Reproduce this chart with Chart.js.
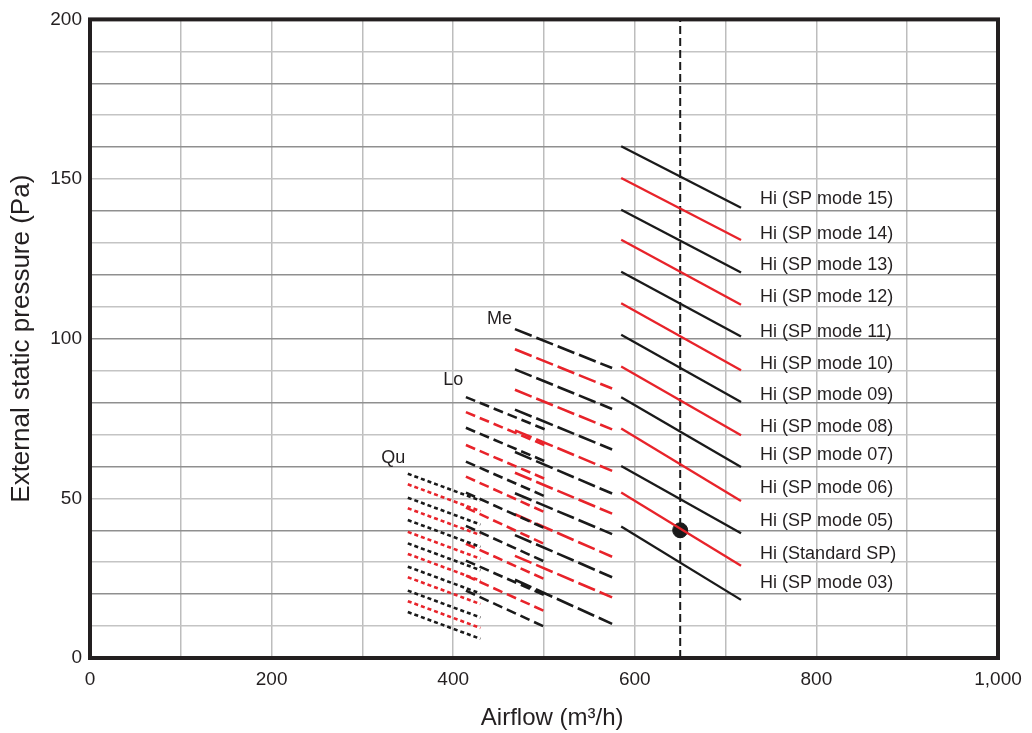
<!DOCTYPE html>
<html>
<head>
<meta charset="utf-8">
<title>External static pressure vs airflow</title>
<script src="https://cdn.jsdelivr.net/npm/chart.js@4/dist/chart.umd.min.js"></script>
<style>
    html, body { margin: 0; padding: 0; background: #ffffff; }
    #chartBox { position: relative; width: 1032px; height: 733px; }
</style>
</head>
<body>
<div id="chartBox"><canvas id="fanChart"></canvas></div>
<script>
// Airflow span of each fan tap (m3/h)
const hiX = [585, 717];
const meX = [468, 575];
const loX = [414, 502];
const quX = [350, 430];

// Pressure at start / end of every curve (Pa), top curve first
const hiStart = [160.3, 150.3, 140.4, 131.0, 121.0, 111.1, 101.2, 91.3, 81.7, 71.9, 60.1, 51.8, 41.2];
const hiEnd = [141.0, 130.9, 120.7, 110.6, 100.7, 90.1, 80.2, 69.8, 59.8, 49.2, 39.1, 28.9, 18.2];
const meStart = [103.0, 96.7, 90.4, 84.0, 77.8, 71.3, 64.5, 58.0, 51.6, 45.0, 38.5, 32.0, 24.5];
const meEnd = [90.8, 84.4, 78.0, 71.6, 65.3, 58.6, 51.5, 45.2, 38.8, 31.7, 25.3, 19.0, 10.7];
const loStart = [81.7, 77.0, 72.1, 66.7, 61.5, 56.8, 51.8, 47.1, 41.4, 35.8, 30.5, 25.8, 21.1];
const loEnd = [71.5, 66.5, 61.5, 56.0, 50.5, 45.5, 40.5, 35.5, 30.0, 24.5, 19.5, 14.5, 9.6];
const quStart = [57.7, 54.4, 50.2, 46.9, 43.2, 39.5, 35.9, 32.6, 28.6, 25.3, 21.1, 17.8, 14.4];
const quEnd = [49.3, 46.0, 41.8, 38.5, 34.8, 31.1, 27.5, 24.2, 20.2, 16.9, 12.7, 9.4, 6.0];

// Hi curve labels and where they sit (x in m3/h, y in Pa)
const hiLabels = ['Hi (SP mode 15)', 'Hi (SP mode 14)', 'Hi (SP mode 13)', 'Hi (SP mode 12)',
    'Hi (SP mode 11)', 'Hi (SP mode 10)', 'Hi (SP mode 09)', 'Hi (SP mode 08)', 'Hi (SP mode 07)',
    'Hi (SP mode 06)', 'Hi (SP mode 05)', 'Hi (Standard SP)', 'Hi (SP mode 03)'];
const hiLabelX = 738;
const hiLabelY = [143.8, 132.7, 123.1, 113.0, 102.2, 92.0, 82.4, 72.3, 63.5, 53.2, 43.0, 32.6, 23.5];

// Tap names
const tapNames = ['Me', 'Lo', 'Qu'];
const tapNameX = [451, 400, 334];
const tapNameY = [106.3, 87.2, 62.7];

// Rated point
const ratedAirflow = 650;
const ratedPressure = 40;

const BLACK = '#1a1a1a';
const RED = '#e8232a';
const FONT = "'Liberation Sans', Arial, sans-serif";

function makeCurves(xRange, starts, ends, dash, width) {
    return starts.map((s, i) => ({
        data: [{ x: xRange[0], y: s }, { x: xRange[1], y: ends[i] }],
        borderColor: i % 2 === 0 ? BLACK : RED,
        borderWidth: width,
        borderDash: dash,
        pointRadius: 0,
        fill: false
    }));
}

// frame, x title and text labels on top of the plot
const overlayPlugin = {
    id: 'overlay',
    afterDatasetsDraw(chart) {
        const { ctx, chartArea, scales } = chart;
        ctx.save();
        ctx.strokeStyle = '#231f20';
        ctx.lineWidth = 4;
        ctx.strokeRect(chartArea.left, chartArea.top, chartArea.right - chartArea.left, chartArea.bottom - chartArea.top);

        ctx.fillStyle = '#231f20';
        ctx.font = `18px ${FONT}`;
        ctx.textBaseline = 'middle';
        ctx.textAlign = 'left';
        hiLabels.forEach((txt, i) => {
            ctx.fillText(txt, scales.x.getPixelForValue(hiLabelX), scales.y.getPixelForValue(hiLabelY[i]));
        });
        ctx.textAlign = 'center';
        tapNames.forEach((txt, i) => {
            ctx.fillText(txt, scales.x.getPixelForValue(tapNameX[i]), scales.y.getPixelForValue(tapNameY[i]));
        });

        // axis title sits a little right of the plot centre in the original
        ctx.font = `24px ${FONT}`;
        ctx.fillText('Airflow (m³/h)', scales.x.getPixelForValue(509), 718);
        ctx.restore();
    }
};

const datasets = [
    ...makeCurves(quX, quStart, quEnd, [4, 3], 2.6),
    ...makeCurves(loX, loStart, loEnd, [10, 5], 2.6),
    ...makeCurves(meX, meStart, meEnd, [18, 5], 2.6),
    ...makeCurves(hiX, hiStart, hiEnd, [], 2.3),
    {
        data: [{ x: ratedAirflow, y: 0 }, { x: ratedAirflow, y: 200 }],
        borderColor: BLACK,
        borderWidth: 2,
        borderDash: [8, 4],
        pointRadius: 0
    },
    {
        data: [{ x: ratedAirflow, y: ratedPressure }],
        showLine: false,
        pointRadius: 7.5,
        pointBackgroundColor: BLACK,
        pointBorderColor: BLACK
    }
];

const config = {
    type: 'line',
    data: { datasets: datasets },
    options: {
        responsive: false,
        animation: false,
        layout: { padding: { left: 0, top: 17, right: 34, bottom: 0 } },
        plugins: {
            legend: { display: false },
            tooltip: { enabled: false }
        },
        scales: {
            x: {
                type: 'linear',
                min: 0,
                max: 1000,
                border: { display: false },
                grid: { color: '#bdbdbd', lineWidth: 1.5, drawTicks: false },
                ticks: {
                    stepSize: 100,
                    autoSkip: false,
                    maxRotation: 0,
                    padding: 10,
                    color: '#231f20',
                    font: { family: FONT, size: 19 },
                    callback: v => (v % 200 === 0 ? v.toLocaleString('en-US') : '')
                },
                afterFit: scale => { scale.height = 75; }
            },
            y: {
                type: 'linear',
                min: 0,
                max: 200,
                border: { display: false },
                grid: {
                    color: c => (c.tick && c.tick.value % 20 === 0 ? '#8f8f8f' : '#c4c4c4'),
                    lineWidth: 1.5,
                    drawTicks: false
                },
                ticks: {
                    stepSize: 10,
                    autoSkip: false,
                    padding: 8,
                    color: '#231f20',
                    font: { family: FONT, size: 19 },
                    callback: v => (v % 50 === 0 ? v : '')
                },
                title: {
                    display: true,
                    text: 'External static pressure (Pa)',
                    color: '#231f20',
                    font: { family: FONT, size: 26 },
                    padding: { top: 6, bottom: 0 }
                },
                afterFit: scale => { scale.width = 90; }
            }
        }
    },
    plugins: [overlayPlugin]
};

const canvas = document.getElementById('fanChart');
canvas.width = 1032;
canvas.height = 733;
new Chart(canvas, config);
</script>
</body>
</html>
